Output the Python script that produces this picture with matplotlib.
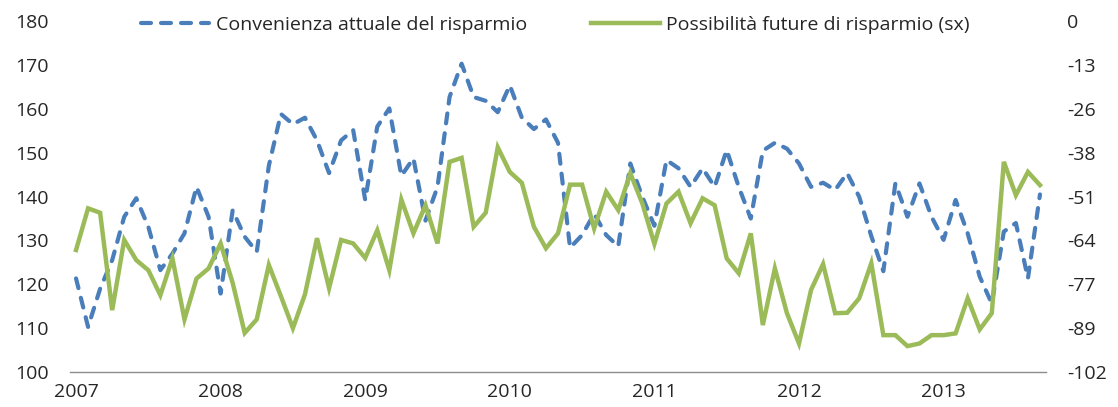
import matplotlib
matplotlib.use("Agg")
import matplotlib.pyplot as plt
import numpy as np

plt.rcParams['font.family'] = ['Open Sans', 'DejaVu Sans']

# Monthly data Jan 2007 - Sep 2013 (81 months)
year_labels = ['2007', '2008', '2009', '2010', '2011', '2012', '2013']

# Possibilità future di risparmio (left axis, "sx")
future_savings = [
    127.8, 137.3, 136.3, 114.1, 130.1, 125.5, 123.2, 117.5, 125.9, 112.0, 121.3, 123.6,
    129.3, 120.3, 108.9, 112.0, 124.4, 117.3, 110.0, 117.7, 130.5, 119.1, 130.1, 129.3,
    126.0, 132.3, 123.2, 139.3, 131.6, 138.0, 129.3, 147.9, 148.8, 133.1, 136.3, 151.2,
    145.6, 143.1, 133.1, 128.2, 131.6, 142.7, 142.7, 132.7, 141.1, 136.9, 145.3, 138.4,
    129.2, 138.4, 141.1, 133.9, 139.6, 138.0, 125.9, 122.5, 131.6, 110.7, 123.6, 113.4,
    106.5, 118.7, 124.6, 113.4, 113.5, 116.8, 124.8, 108.4, 108.4, 105.9, 106.5, 108.4,
    108.4, 108.8, 116.8, 109.7, 113.4, 147.9, 140.3, 145.6, 142.6,
]

# Convenienza attuale del risparmio (right axis)
current_convenience = [
    -74.8, -88.9, -77.8, -69.5, -56.9, -51.5, -59.8, -72.4, -67.6, -61.7, -48.2, -56.9,
    -79.2, -55.0, -62.7, -67.1, -42.1, -27.0, -30.0, -28.1, -34.7, -44.2, -34.7, -31.7,
    -52.0, -30.7, -25.4, -45.0, -39.9, -58.0, -48.2, -22.1, -12.4, -22.1, -23.2, -26.5,
    -18.7, -28.1, -31.4, -28.6, -35.4, -65.9, -62.2, -56.0, -62.2, -65.5, -41.4, -51.1,
    -59.5, -40.4, -42.8, -48.2, -42.8, -48.2, -37.5, -48.2, -57.4, -37.7, -35.4, -37.1,
    -41.4, -48.2, -47.0, -49.1, -44.2, -51.1, -62.5, -72.7, -47.2, -56.9, -47.2, -56.9,
    -63.6, -52.0, -61.7, -74.3, -82.1, -61.2, -58.7, -74.8, -50.4,
]

left_ticks = [100, 110, 120, 130, 140, 150, 160, 170, 180]
right_tick_labels = ['-102', '-89', '-77', '-64', '-51', '-38', '-26', '-13', '0']

blue = '#4A7EBB'
green = '#9BBB59'
text_color = '#262626'
fs = 14

fig = plt.figure(figsize=(11.18, 4.07), dpi=100)
ax = fig.add_axes([70/1118, 1 - 372/407, (1046 - 70)/1118, (372 - 21)/407])
ax2 = ax.twinx()

x = np.arange(len(future_savings))

l2, = ax2.plot(x, current_convenience, color=blue, lw=3.0,
               dash_capstyle='round', solid_capstyle='round')
l2.set_dashes([2.4, 2.4])
l1, = ax.plot(x, future_savings, color=green, lw=3.2, solid_joinstyle='miter')
ax.set_zorder(ax2.get_zorder() + 1)
ax.patch.set_visible(False)

ax.set_xlim(-0.5, len(x) - 0.5)
ax.set_ylim(100, 180)
ax.set_yticks(left_ticks)
ax2.set_ylim(-102, 0)
rt = np.linspace(-102, 0, 9)
ax2.set_yticks(rt)
ax2.set_yticklabels(right_tick_labels)

ax.set_xticks(x[::12])
ax.set_xticklabels(year_labels)

for a in (ax, ax2):
    for s in a.spines.values():
        s.set_visible(False)
ax.spines['bottom'].set_visible(True)
ax.spines['bottom'].set_color('#8c8c8c')
ax.spines['bottom'].set_linewidth(1.0)

ax.tick_params(axis='y', length=0, pad=15, labelsize=fs, labelcolor=text_color)
ax.tick_params(axis='x', length=0, pad=8, labelsize=fs, labelcolor=text_color)
ax2.tick_params(axis='y', length=0, pad=15, labelsize=fs, labelcolor=text_color)

leg = fig.legend([l2, l1],
                 ['Convenienza attuale del risparmio', 'Possibilità future di risparmio (sx)'],
                 loc='center', bbox_to_anchor=(0.4969, 1 - 25/407), ncol=2,
                 frameon=False, fontsize=fs, handlelength=3.5, handletextpad=0.35,
                 columnspacing=3.3, borderpad=0, borderaxespad=0)
for t in leg.get_texts():
    t.set_color(text_color)

fig.savefig('out.png', dpi=100)
